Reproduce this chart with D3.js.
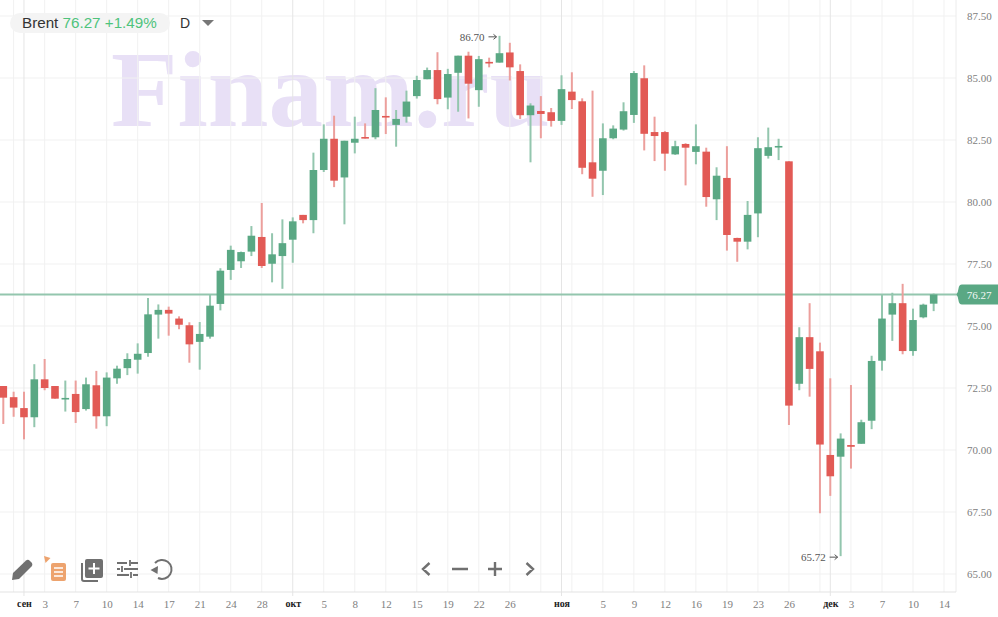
<!DOCTYPE html>
<html>
<head>
<meta charset="utf-8">
<script src="https://cdn.jsdelivr.net/npm/d3@7"></script>
<style>
html, body { margin: 0; padding: 0; background: #fff; }
svg { display: block; }
</style>
</head>
<body>
<div id="chart"></div>
<script>
const opens = [72.58,72.13,71.69,71.32,72.85,72.58,72.08,72.26,71.65,72.61,71.36,72.89,73.30,73.64,73.91,75.46,75.65,75.30,75.03,74.36,
  74.57,75.89,77.26,77.61,78.00,78.59,77.51,77.82,78.48,79.48,79.27,81.29,82.55,80.99,82.39,82.62,82.61,83.47,83.11,83.44,
  84.27,84.95,85.32,84.21,85.21,85.90,84.51,85.65,85.62,86.03,85.28,83.50,83.67,83.62,83.27,84.45,84.06,81.60,81.26,82.57,
  82.92,83.51,84.99,82.82,82.82,81.92,82.34,82.02,82.03,80.11,80.97,78.55,78.40,79.54,81.86,82.23,81.64,72.67,74.55,73.98,
  69.80,69.73,70.20,70.25,71.18,73.60,75.46,75.92,73.99,75.35,75.90];
const highs = [72.58,72.35,72.35,73.46,73.67,72.58,72.80,72.80,72.92,73.19,73.13,73.40,73.90,74.30,76.13,75.87,75.78,75.39,75.15,75.16,
  76.26,77.33,78.24,78.00,79.03,79.96,78.74,79.30,79.38,79.48,81.99,83.13,83.48,82.47,83.44,83.17,84.59,84.22,83.71,84.49,
  85.09,85.42,86.04,85.37,85.90,86.06,85.89,85.82,86.70,86.42,85.55,83.98,84.27,83.79,85.11,85.23,84.18,84.49,83.17,83.09,
  84.02,85.28,85.51,83.44,82.86,82.47,82.37,83.13,82.19,81.40,82.25,78.56,80.04,82.61,83.00,82.55,81.64,74.95,75.92,74.33,
  72.89,70.67,72.62,71.22,73.80,76.25,76.34,76.70,75.70,75.90,76.31];
const lows = [71.05,71.34,70.43,70.92,72.41,72.07,71.55,71.09,71.59,70.86,70.96,72.67,73.02,73.08,73.76,74.49,74.61,74.87,73.52,73.24,
  74.49,75.63,76.86,77.34,77.82,77.34,76.76,76.50,77.55,79.14,78.74,81.21,80.60,79.10,81.96,82.56,82.53,82.74,82.23,83.20,
  84.17,84.95,83.94,83.74,83.64,83.37,83.84,85.43,85.62,84.90,83.35,81.60,82.57,83.04,83.11,83.75,81.12,80.21,80.28,82.53,
  82.88,83.19,82.08,81.65,81.26,81.90,80.67,81.52,79.81,79.27,78.04,77.59,78.09,78.58,81.75,81.69,71.01,72.41,72.15,67.45,
  68.15,65.72,69.25,70.25,70.84,73.20,74.40,73.86,73.80,75.31,75.60];
const closes = [72.11,71.71,71.32,72.85,72.50,72.07,72.10,71.53,72.65,71.36,72.92,73.28,73.67,73.88,75.47,75.65,75.50,75.05,74.26,74.68,
  75.82,77.23,78.07,77.98,78.64,77.42,77.89,78.34,79.22,79.27,81.29,82.55,80.86,82.47,82.55,82.58,83.71,83.42,83.35,84.05,
  84.92,85.32,84.15,85.16,85.90,84.77,85.76,85.60,86.00,85.43,83.50,83.89,83.55,83.27,84.55,84.11,81.38,80.94,82.57,82.96,
  83.66,85.20,82.75,82.66,81.95,82.25,82.19,82.25,80.20,81.06,78.67,78.40,79.48,82.17,82.21,82.26,71.79,74.55,73.27,70.22,
  68.94,70.46,70.13,71.12,73.59,75.30,75.92,73.99,75.24,75.86,76.27];

const priceTicks = [65, 67.5, 70, 72.5, 75, 77.5, 80, 82.5, 85, 87.5];
const dateTicks = [2,4,7,10,13,16,19,22,25,28,31,34,37,40,43,46,49,54,58,61,64,67,70,73,76,80,82,85,88,91];
const dateLabels = ["сен","3","7","10","14","17","21","24","28","окт","5","8","12","15","19","22","26","ноя","5","9","12","16","19","23","26","дек","3","7","10","14"];
const gridDays = [1,4,7,10,13,16,19,22,25,31,34,37,40,43,46,49,52,55,58,61,64,67,70,73,76,79,82,85,88,91];
const monthDays = [2,28,54,80];
const symbol = "Brent";
const lastPrice = 76.27;
const changeText = "+1.49%";
const maxPoint = { day: 48, price: 86.70 };
const minPoint = { day: 81, price: 65.72 };

const width = 998, height = 617;
const plotRight = 956, plotBottom = 592;
const green = "#5aa884", greenWick = "#93c6ae", red = "#e25a55", redWick = "#ec9f9c";
const serif = "'Liberation Serif', serif";

const x = d3.scaleLinear().domain([0, 91]).range([3.3, 944]);
const y = d3.scaleLinear().domain([65, 87.5]).range([574, 16]);

const svg = d3.select("#chart").append("svg").attr("width", width).attr("height", height);

// watermark sits under the grid
svg.append("text")
    .attr("x", 111).attr("y", 126)
    .attr("font-family", serif).attr("font-weight", "bold").attr("font-size", 109)
    .attr("fill", "#e8e0f6")
    .text("Finam.ru");

// grid
svg.append("g").selectAll("line").data(priceTicks).enter().append("line")
    .attr("x1", 0).attr("x2", plotRight)
    .attr("y1", d => y(d)).attr("y2", d => y(d))
    .attr("stroke", "#f1f1f1");
svg.append("g").selectAll("line").data(gridDays).enter().append("line")
    .attr("x1", d => x(d)).attr("x2", d => x(d))
    .attr("y1", 0).attr("y2", plotBottom)
    .attr("stroke", "#f1f1f1");
svg.append("g").selectAll("line").data(monthDays).enter().append("line")
    .attr("x1", d => x(d)).attr("x2", d => x(d))
    .attr("y1", 0).attr("y2", plotBottom + 4)
    .attr("stroke", "#e5e5e5");
svg.append("line").attr("x1", plotRight).attr("x2", plotRight).attr("y1", 0).attr("y2", plotBottom).attr("stroke", "#ececec");
svg.append("line").attr("x1", 0).attr("x2", plotRight).attr("y1", plotBottom).attr("y2", plotBottom).attr("stroke", "#e3e3e3");

// axes
const priceAxis = d3.axisRight(y).tickValues(priceTicks).tickSize(0).tickPadding(11).tickFormat(d3.format(".2f"));
const gPrice = svg.append("g").attr("transform", `translate(${plotRight},0)`).call(priceAxis);
gPrice.select(".domain").remove();
gPrice.selectAll("text").attr("font-family", serif).attr("font-size", 11).attr("fill", "#808080");

const dateAxis = d3.axisBottom(x).tickValues(dateTicks).tickSize(0).tickPadding(8)
    .tickFormat((d, i) => dateLabels[i]);
const gDate = svg.append("g").attr("transform", `translate(0,${plotBottom})`).call(dateAxis);
gDate.select(".domain").remove();
gDate.selectAll("text")
    .attr("font-family", serif)
    .attr("font-size", d => monthDays.includes(d) ? 10 : 11)
    .attr("font-weight", d => monthDays.includes(d) ? "bold" : "normal")
    .attr("fill", d => monthDays.includes(d) ? "#222" : "#808080");

// last price line
svg.append("line")
    .attr("x1", 0).attr("x2", 960)
    .attr("y1", y(lastPrice)).attr("y2", y(lastPrice))
    .attr("stroke", "#93c6ae").attr("stroke-width", 2);

// candles
const candles = d3.range(opens.length);
const isUp = i => closes[i] >= opens[i];
svg.append("g").selectAll("line").data(candles).enter().append("line")
    .attr("x1", i => x(i)).attr("x2", i => x(i))
    .attr("y1", i => y(highs[i])).attr("y2", i => y(lows[i]))
    .attr("stroke", i => isUp(i) ? greenWick : redWick)
    .attr("stroke-width", 2);
svg.append("g").selectAll("rect").data(candles).enter().append("rect")
    .attr("x", i => x(i) - 3.8)
    .attr("width", 7.6)
    .attr("y", i => y(Math.max(opens[i], closes[i])))
    .attr("height", i => Math.max(1.6, Math.abs(y(opens[i]) - y(closes[i]))))
    .attr("fill", i => isUp(i) ? green : red);

// high / low notes
[maxPoint, minPoint].forEach(p => {
    const px = x(p.day), py = y(p.price) + 1;
    svg.append("text")
        .attr("x", px - 15).attr("y", py + 4).attr("text-anchor", "end")
        .attr("font-family", serif).attr("font-size", 11).attr("fill", "#555")
        .text(p.price.toFixed(2));
    svg.append("path")
        .attr("d", `M${px - 11},${py}H${px - 3}M${px - 6},${py - 2.5}L${px - 3},${py}L${px - 6},${py + 2.5}`)
        .attr("fill", "none").attr("stroke", "#555");
});

// price tag
const tagY = y(lastPrice);
svg.append("path")
    .attr("d", `M998,${tagY - 10}H962Q959,${tagY - 10} 958.5,${tagY - 6}Q958,${tagY - 2} 956.5,${tagY}Q958,${tagY + 2} 958.5,${tagY + 6}Q959,${tagY + 10} 962,${tagY + 10}H998Z`)
    .attr("fill", green);
svg.append("text")
    .attr("x", 979).attr("y", tagY + 4).attr("text-anchor", "middle")
    .attr("font-family", serif).attr("font-size", 11).attr("fill", "#f2f8f5")
    .text(lastPrice.toFixed(2));

// header
svg.append("rect").attr("x", 10).attr("y", 13).attr("width", 160).attr("height", 20).attr("rx", 10).attr("fill", "#f4f4f4");
const head = svg.append("text").attr("x", 22).attr("y", 28)
    .attr("font-family", "'Liberation Sans', Arial, sans-serif").attr("font-size", 15.2);
head.append("tspan").attr("fill", "#333").text(symbol + " ");
head.append("tspan").attr("fill", "#4fc37c").text(lastPrice.toFixed(2) + " " + changeText);
svg.append("text").attr("x", 180).attr("y", 28)
    .attr("font-family", "'Liberation Sans', Arial, sans-serif").attr("font-size", 14).attr("fill", "#333")
    .text("D");
svg.append("path").attr("d", "M202,20H214L208,26Z").attr("fill", "#777");

// toolbar icons
const gray = "#707070";
svg.append("path").attr("d", "M12,580L13,573L26,560.5Q28,559 30,561L32,563Q33,565 31.5,566.5L19,579Z").attr("fill", gray);
svg.append("path").attr("d", "M44,556L50.5,558L45.5,563Z").attr("fill", "#eda36e");
svg.append("rect").attr("x", 51).attr("y", 563).attr("width", 15).attr("height", 18).attr("rx", 2).attr("fill", "#eda36e");
svg.append("path").attr("d", "M54,568H63M54,572H63M54,576H63").attr("stroke", "#fff").attr("stroke-width", 1.6);
svg.append("path").attr("d", "M82,563V579Q82,581 84,581H98").attr("fill", "none").attr("stroke", gray).attr("stroke-width", 2);
svg.append("rect").attr("x", 85).attr("y", 559).attr("width", 18).attr("height", 19).attr("rx", 2).attr("fill", gray);
svg.append("path").attr("d", "M94,563V574M88.5,568.5H99.5").attr("stroke", "#fff").attr("stroke-width", 2);
svg.append("path")
    .attr("d", "M117,563H127M131,563H138M130,560V566 M117,569H120M124,569H138M122,566V572 M117,575H129M133,575H138M131,572V578")
    .attr("fill", "none").attr("stroke", gray).attr("stroke-width", 1.8);
svg.append("path").attr("d", "M155,563A9.5,9.5 0 1 1 158,578").attr("fill", "none").attr("stroke", gray).attr("stroke-width", 2);
svg.append("path").attr("d", "M150.5,570L158,566L157.5,574Z").attr("fill", gray);

// zoom and scroll controls
svg.append("path")
    .attr("d", "M429.5,563L423,569L429.5,575 M452,569H468 M488,569H502 M495,562V576 M526.5,563L533,569L526.5,575")
    .attr("fill", "none").attr("stroke", gray).attr("stroke-width", 2.4);
</script>
</body>
</html>
